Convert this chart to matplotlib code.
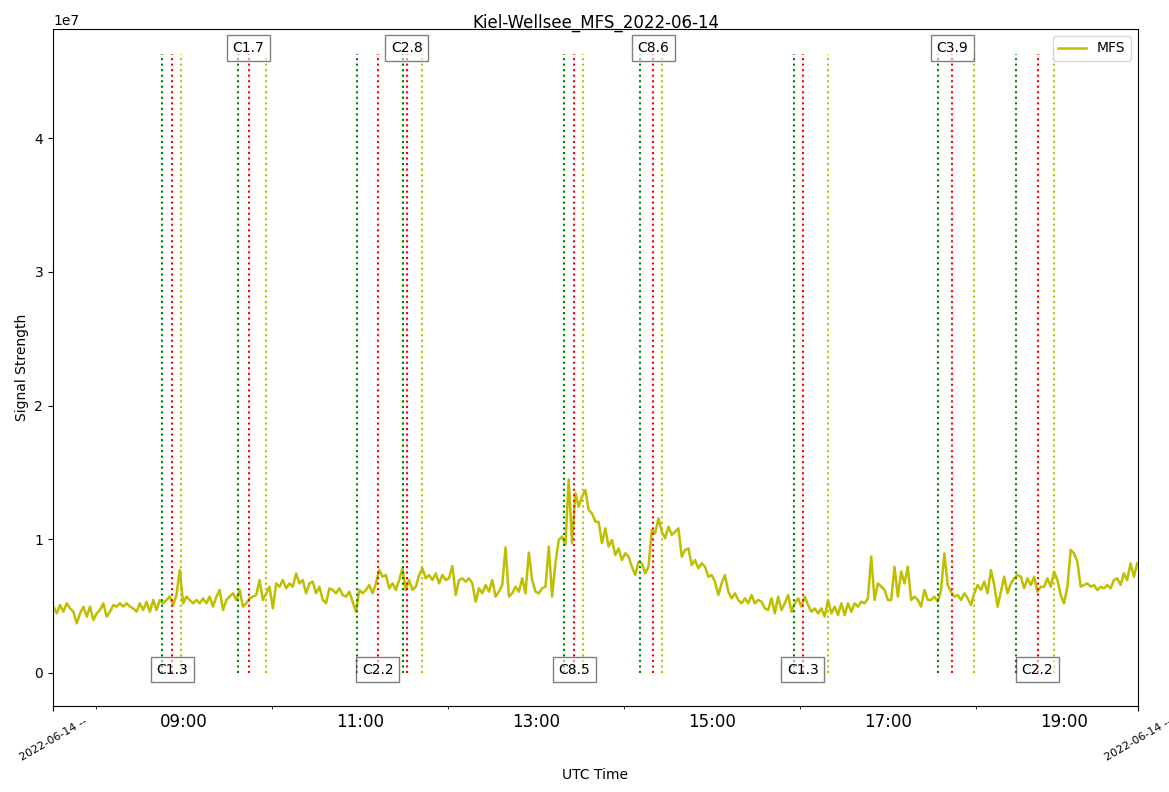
import numpy as np
import pandas as pd
import matplotlib
matplotlib.use("Agg")
from matplotlib import pyplot as plt
import matplotlib.dates as mdates

day = "2022-06-14"
station = "Kiel-Wellsee"

# MFS signal strength, units of 1e6, one sample every 136 s from 07:31
t_start = day + " 07:31:00"
t_step = "136s"
mfs = [
    4.96, 4.46, 5.08, 4.58, 5.21, 4.83, 4.58, 3.71, 4.46, 4.96, 4.21, 4.96, 3.96, 4.46,
    4.71, 5.21, 4.21, 4.58, 5.08, 4.96, 5.21, 4.96, 5.21, 4.96, 4.83, 4.58, 5.21, 4.71,
    5.33, 4.58, 5.46, 4.71, 5.46, 5.21, 5.46, 5.71, 5.08, 5.83, 7.70, 5.21, 5.71, 5.46,
    5.21, 5.46, 5.21, 5.58, 5.21, 5.71, 4.96, 5.71, 6.21, 4.71, 5.46, 5.71, 5.96, 5.46,
    6.21, 4.96, 5.21, 5.58, 5.71, 5.83, 6.95, 5.46, 5.96, 6.45, 4.83, 6.70, 6.45, 6.95,
    6.33, 6.70, 6.45, 7.45, 6.70, 6.95, 5.96, 6.70, 6.83, 5.96, 6.45, 5.46, 5.21, 6.33,
    # 10:36 ->
    6.20, 5.96, 6.33, 5.83, 5.71, 6.08, 5.33, 4.58, 6.21, 5.96, 6.21, 6.58, 5.96, 6.70,
    7.70, 7.20, 7.33, 6.33, 6.70, 6.21, 6.95, 7.83, 6.21, 6.95, 6.21, 6.45, 7.33, 7.83,
    7.08, 7.33, 6.95, 7.45, 6.70, 7.33, 6.95, 7.08, 8.00, 5.83, 6.95, 7.08, 6.83, 7.08,
    6.70, 5.33, 6.33, 5.96, 6.58, 6.08, 6.95, 5.71, 6.08, 6.58, 9.40, 5.71, 5.96, 6.45,
    6.08, 7.08, 5.96, 9.00, 6.95, 6.08, 5.96, 6.33, 6.45, 9.45, 5.71, 8.20, 9.95, 10.20,
    9.57, 14.48, 9.70, 13.44, 12.44, 13.19, 13.69, 12.19, 11.94, 11.32, 11.30,
    # 13:40 ->
    9.70, 10.82, 9.45, 9.95, 8.82, 9.32, 8.45, 8.95, 8.70, 7.95, 7.33, 8.32, 8.20, 7.45,
    7.95, 10.69, 10.44, 11.57, 10.57, 10.07, 10.94, 10.32, 10.57, 10.82, 8.70, 9.20, 9.32,
    8.07, 8.45, 7.83, 8.20, 7.95, 7.20, 7.33, 6.83, 5.83, 6.70, 7.33, 6.08, 5.58, 5.96,
    5.46, 5.21, 5.58, 5.21, 5.83, 5.21, 5.46, 5.33, 4.83, 4.71, 5.58, 4.46, 5.71, 4.71,
    5.21, 5.83, 4.58, 5.21, 5.58, 4.96, 5.71, 5.08, 4.58, 4.83, 4.46, 4.83, 4.21, 5.46,
    4.46, 4.96, 4.33, 5.21, 4.33, 5.21, 4.58, 5.21, 4.96, 5.33, 5.21, 5.58,
    # 16:43 ->
    8.70, 5.46, 6.70, 6.45, 6.21, 5.46, 5.46, 7.95, 5.71, 7.58, 6.70, 7.95, 5.46, 5.71,
    5.46, 4.96, 6.21, 5.46, 5.46, 5.71, 5.33, 6.21, 8.95, 6.58, 6.08, 5.71, 5.83, 5.46,
    5.96, 5.58, 5.08, 5.96, 6.58, 6.21, 6.83, 5.96, 7.70, 6.58, 4.96, 6.08, 7.20, 5.96,
    6.70, 7.08, 7.33, 7.20, 6.33, 7.08, 6.58, 7.20, 6.08, 6.45, 6.45, 7.08, 6.45, 7.58,
    6.95, 5.83, 5.21, 6.45, 9.20, 8.95, 8.32, 6.45, 6.58, 6.70, 6.45, 6.58, 6.21, 6.45,
    6.33, 6.58, 6.33, 6.95, 7.08, 6.58, 7.45, 6.95, 8.20, 7.20, 8.20,
]

# flare events: start (green), peak (red), end (yellow)
flare_start = ["08:45", "09:37", "10:58", "11:29", "13:19", "14:11", "15:56", "17:34", "18:27"]
flare_peak = ["08:52", "09:44", "11:12", "11:32", "13:26", "14:20", "16:02", "17:44", "18:42"]
flare_end = ["08:58", "09:56", "11:29", "11:42", "13:32", "14:26", "16:19", "17:59", "18:53"]
flare_class = ["C1.3", "C1.7", "C2.2", "C2.8", "C8.5", "C8.6", "C1.3", "C3.9", "C2.2"]

x_from = day + " 07:30:40"
x_to = day + " 19:50:30"


def tnum(s):
    return mdates.date2num(pd.Timestamp(s))


times = pd.date_range(t_start, periods=len(mfs), freq=t_step)
signal = np.array(mfs) * 1e6

fig = plt.figure(figsize=(11.69, 7.92), dpi=100)
ax = fig.add_axes([0.0453, 0.1086, 0.9282, 0.8548])

ax.plot(times, signal, color="y", lw=1.8, label="MFS")

line_top = 4.63e7
for i in range(len(flare_class)):
    ts = tnum(day + " " + flare_start[i])
    tp = tnum(day + " " + flare_peak[i])
    te = tnum(day + " " + flare_end[i])
    ax.vlines(ts, 0, line_top, colors="g", linestyles=":", lw=1.5)
    ax.vlines(tp, 0, line_top, colors="r", linestyles=":", lw=1.5)
    ax.vlines(te, 0, line_top, colors="y", linestyles=":", lw=1.5)
    # alternate label position bottom / top
    ylab = 2.5e5 if i % 2 == 0 else 4.675e7
    ax.text(tp, ylab, flare_class[i], ha="center", va="center", fontsize=10,
            bbox=dict(facecolor="white", alpha=0.5))

ax.set_xlim(tnum(x_from), tnum(x_to))
ax.set_ylim(-2.47e6, 4.817e7)

# edge ticks with date labels
ax.set_xticks([tnum(x_from), tnum(x_to)])
ax.set_xticklabels([day + " --", day + " --"], rotation=30, fontsize=8)

# hourly minor ticks: marks on even hours, labels on odd hours
hours = list(range(8, 20))
ax.set_xticks([tnum(day + " %02d:00" % h) for h in hours], minor=True)
ax.set_xticklabels(["%02d:00" % h if h % 2 == 1 else "" for h in hours], minor=True, fontsize=12)
for h, tk in zip(hours, ax.xaxis.get_minor_ticks()):
    if h % 2 == 1:
        tk.tick1line.set_visible(False)

# fixed y keeps the title from being pushed up above the 1e7 offset text
ax.set_title(station + "_MFS_" + day, y=1.0, pad=1)
ax.set_xlabel("UTC Time")
ax.set_ylabel("Signal Strength")
ax.legend(loc="upper right")

fig.savefig("out.png", dpi=100)
